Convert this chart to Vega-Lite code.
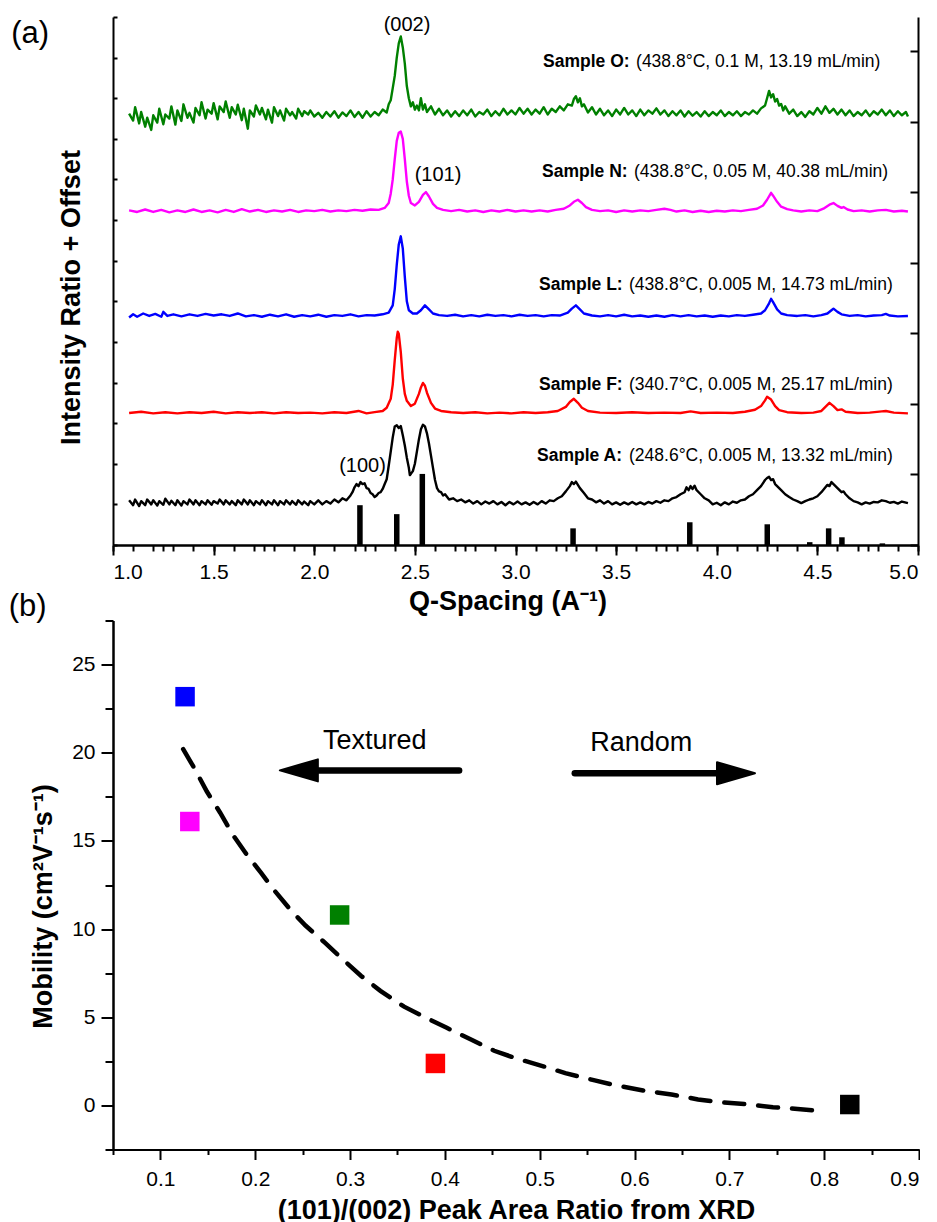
{
"$schema": "https://vega.github.io/schema/vega-lite/v6.json",
"background": "white",
"padding": {"left": 8, "top": 14, "right": 0, "bottom": 0},
"bounds": "flush",
"spacing": 75.5,
"config": {
  "font": "Liberation Sans",
  "view": {"stroke": null},
  "axis": {"grid": false, "domainColor": "black", "domainWidth": 2, "tickColor": "black", "tickWidth": 2,
           "labelFont": "Liberation Sans", "labelFontSize": 21, "labelColor": "black",
           "titleFont": "Liberation Sans", "titleFontSize": 27, "titleFontWeight": "bold", "titleColor": "black"},
  "text": {"font": "Liberation Sans", "color": "black"}
},
"datasets": {
"spec": [
{"s":"O","q":1.08,"v":10.62},{"s":"O","q":1.10,"v":10.45},{"s":"O","q":1.11,"v":10.78},{"s":"O","q":1.13,"v":10.38},{"s":"O","q":1.14,"v":10.66},{"s":"O","q":1.16,"v":10.30},{"s":"O","q":1.17,"v":10.52},{"s":"O","q":1.19,"v":10.22},{"s":"O","q":1.20,"v":10.58},{"s":"O","q":1.22,"v":10.40},{"s":"O","q":1.23,"v":10.74},{"s":"O","q":1.25,"v":10.36},{"s":"O","q":1.26,"v":10.60},{"s":"O","q":1.28,"v":10.50},{"s":"O","q":1.29,"v":10.80},{"s":"O","q":1.31,"v":10.35},{"s":"O","q":1.32,"v":10.70},{"s":"O","q":1.34,"v":10.44},{"s":"O","q":1.35,"v":10.85},{"s":"O","q":1.37,"v":10.52},{"s":"O","q":1.38,"v":10.64},{"s":"O","q":1.40,"v":10.40},{"s":"O","q":1.41,"v":10.76},{"s":"O","q":1.43,"v":10.58},{"s":"O","q":1.44,"v":10.90},{"s":"O","q":1.46,"v":10.50},{"s":"O","q":1.47,"v":10.72},{"s":"O","q":1.49,"v":10.62},{"s":"O","q":1.50,"v":10.88},{"s":"O","q":1.52,"v":10.48},{"s":"O","q":1.53,"v":10.80},{"s":"O","q":1.55,"v":10.66},{"s":"O","q":1.56,"v":10.92},{"s":"O","q":1.58,"v":10.52},{"s":"O","q":1.59,"v":10.78},{"s":"O","q":1.61,"v":10.60},{"s":"O","q":1.62,"v":10.84},{"s":"O","q":1.64,"v":10.46},{"s":"O","q":1.65,"v":10.74},{"s":"O","q":1.67,"v":10.25},{"s":"O","q":1.68,"v":10.70},{"s":"O","q":1.70,"v":10.55},{"s":"O","q":1.71,"v":10.82},{"s":"O","q":1.73,"v":10.60},{"s":"O","q":1.74,"v":10.76},{"s":"O","q":1.76,"v":10.48},{"s":"O","q":1.77,"v":10.72},{"s":"O","q":1.79,"v":10.40},{"s":"O","q":1.80,"v":10.78},{"s":"O","q":1.82,"v":10.56},{"s":"O","q":1.83,"v":10.70},{"s":"O","q":1.85,"v":10.45},{"s":"O","q":1.86,"v":10.74},{"s":"O","q":1.88,"v":10.58},{"s":"O","q":1.89,"v":10.66},{"s":"O","q":1.91,"v":10.50},{"s":"O","q":1.92,"v":10.74},{"s":"O","q":1.94,"v":10.56},{"s":"O","q":1.95,"v":10.68},{"s":"O","q":1.97,"v":10.60},{"s":"O","q":1.98,"v":10.70},{"s":"O","q":2.00,"v":10.55},{"s":"O","q":2.02,"v":10.64},{"s":"O","q":2.04,"v":10.52},{"s":"O","q":2.06,"v":10.66},{"s":"O","q":2.08,"v":10.55},{"s":"O","q":2.10,"v":10.68},{"s":"O","q":2.12,"v":10.52},{"s":"O","q":2.14,"v":10.65},{"s":"O","q":2.16,"v":10.56},{"s":"O","q":2.18,"v":10.70},{"s":"O","q":2.20,"v":10.54},{"s":"O","q":2.22,"v":10.66},{"s":"O","q":2.24,"v":10.52},{"s":"O","q":2.26,"v":10.68},{"s":"O","q":2.28,"v":10.55},{"s":"O","q":2.30,"v":10.66},{"s":"O","q":2.32,"v":10.58},{"s":"O","q":2.34,"v":10.72},{"s":"O","q":2.36,"v":10.65},{"s":"O","q":2.37,"v":10.85},{"s":"O","q":2.38,"v":10.95},{"s":"O","q":2.39,"v":11.25},{"s":"O","q":2.40,"v":11.55},{"s":"O","q":2.41,"v":12.0},{"s":"O","q":2.42,"v":12.35},{"s":"O","q":2.43,"v":12.52},{"s":"O","q":2.44,"v":12.25},{"s":"O","q":2.45,"v":11.85},{"s":"O","q":2.46,"v":11.3},{"s":"O","q":2.47,"v":11.0},{"s":"O","q":2.48,"v":10.8},{"s":"O","q":2.49,"v":10.9},{"s":"O","q":2.50,"v":10.72},{"s":"O","q":2.51,"v":10.82},{"s":"O","q":2.52,"v":10.7},{"s":"O","q":2.53,"v":11.0},{"s":"O","q":2.54,"v":10.72},{"s":"O","q":2.55,"v":10.85},{"s":"O","q":2.56,"v":10.66},{"s":"O","q":2.58,"v":10.8},{"s":"O","q":2.60,"v":10.6},{"s":"O","q":2.62,"v":10.74},{"s":"O","q":2.64,"v":10.58},{"s":"O","q":2.66,"v":10.7},{"s":"O","q":2.68,"v":10.55},{"s":"O","q":2.70,"v":10.68},{"s":"O","q":2.72,"v":10.56},{"s":"O","q":2.74,"v":10.7},{"s":"O","q":2.76,"v":10.58},{"s":"O","q":2.78,"v":10.72},{"s":"O","q":2.80,"v":10.55},{"s":"O","q":2.82,"v":10.66},{"s":"O","q":2.84,"v":10.6},{"s":"O","q":2.86,"v":10.72},{"s":"O","q":2.88,"v":10.56},{"s":"O","q":2.90,"v":10.68},{"s":"O","q":2.92,"v":10.58},{"s":"O","q":2.94,"v":10.74},{"s":"O","q":2.96,"v":10.6},{"s":"O","q":2.98,"v":10.7},{"s":"O","q":3.00,"v":10.6},{"s":"O","q":3.02,"v":10.76},{"s":"O","q":3.04,"v":10.62},{"s":"O","q":3.06,"v":10.74},{"s":"O","q":3.08,"v":10.6},{"s":"O","q":3.10,"v":10.72},{"s":"O","q":3.12,"v":10.62},{"s":"O","q":3.14,"v":10.78},{"s":"O","q":3.16,"v":10.6},{"s":"O","q":3.18,"v":10.74},{"s":"O","q":3.20,"v":10.66},{"s":"O","q":3.22,"v":10.8},{"s":"O","q":3.24,"v":10.7},{"s":"O","q":3.26,"v":10.85},{"s":"O","q":3.28,"v":10.82},{"s":"O","q":3.29,"v":10.98},{"s":"O","q":3.30,"v":11.05},{"s":"O","q":3.31,"v":10.9},{"s":"O","q":3.32,"v":11.0},{"s":"O","q":3.33,"v":10.8},{"s":"O","q":3.34,"v":10.85},{"s":"O","q":3.36,"v":10.65},{"s":"O","q":3.38,"v":10.78},{"s":"O","q":3.40,"v":10.6},{"s":"O","q":3.42,"v":10.74},{"s":"O","q":3.44,"v":10.58},{"s":"O","q":3.46,"v":10.7},{"s":"O","q":3.48,"v":10.56},{"s":"O","q":3.50,"v":10.72},{"s":"O","q":3.52,"v":10.6},{"s":"O","q":3.54,"v":10.76},{"s":"O","q":3.56,"v":10.6},{"s":"O","q":3.58,"v":10.7},{"s":"O","q":3.60,"v":10.56},{"s":"O","q":3.62,"v":10.72},{"s":"O","q":3.64,"v":10.58},{"s":"O","q":3.66,"v":10.7},{"s":"O","q":3.68,"v":10.62},{"s":"O","q":3.70,"v":10.75},{"s":"O","q":3.72,"v":10.6},{"s":"O","q":3.74,"v":10.7},{"s":"O","q":3.76,"v":10.56},{"s":"O","q":3.78,"v":10.68},{"s":"O","q":3.80,"v":10.58},{"s":"O","q":3.82,"v":10.7},{"s":"O","q":3.84,"v":10.55},{"s":"O","q":3.86,"v":10.68},{"s":"O","q":3.88,"v":10.57},{"s":"O","q":3.90,"v":10.66},{"s":"O","q":3.92,"v":10.55},{"s":"O","q":3.94,"v":10.68},{"s":"O","q":3.96,"v":10.56},{"s":"O","q":3.98,"v":10.66},{"s":"O","q":4.00,"v":10.58},{"s":"O","q":4.02,"v":10.7},{"s":"O","q":4.04,"v":10.56},{"s":"O","q":4.06,"v":10.66},{"s":"O","q":4.08,"v":10.58},{"s":"O","q":4.10,"v":10.68},{"s":"O","q":4.12,"v":10.56},{"s":"O","q":4.14,"v":10.66},{"s":"O","q":4.16,"v":10.6},{"s":"O","q":4.18,"v":10.7},{"s":"O","q":4.20,"v":10.62},{"s":"O","q":4.22,"v":10.75},{"s":"O","q":4.24,"v":10.82},{"s":"O","q":4.25,"v":11.0},{"s":"O","q":4.26,"v":11.18},{"s":"O","q":4.27,"v":11.02},{"s":"O","q":4.28,"v":11.1},{"s":"O","q":4.29,"v":10.92},{"s":"O","q":4.30,"v":10.98},{"s":"O","q":4.31,"v":10.82},{"s":"O","q":4.32,"v":10.86},{"s":"O","q":4.33,"v":10.7},{"s":"O","q":4.34,"v":10.8},{"s":"O","q":4.36,"v":10.62},{"s":"O","q":4.38,"v":10.72},{"s":"O","q":4.40,"v":10.56},{"s":"O","q":4.42,"v":10.66},{"s":"O","q":4.44,"v":10.54},{"s":"O","q":4.46,"v":10.68},{"s":"O","q":4.48,"v":10.6},{"s":"O","q":4.50,"v":10.76},{"s":"O","q":4.52,"v":10.62},{"s":"O","q":4.54,"v":10.8},{"s":"O","q":4.56,"v":10.64},{"s":"O","q":4.58,"v":10.74},{"s":"O","q":4.60,"v":10.6},{"s":"O","q":4.62,"v":10.72},{"s":"O","q":4.64,"v":10.58},{"s":"O","q":4.66,"v":10.7},{"s":"O","q":4.68,"v":10.56},{"s":"O","q":4.70,"v":10.66},{"s":"O","q":4.72,"v":10.58},{"s":"O","q":4.74,"v":10.7},{"s":"O","q":4.76,"v":10.56},{"s":"O","q":4.78,"v":10.68},{"s":"O","q":4.80,"v":10.6},{"s":"O","q":4.82,"v":10.72},{"s":"O","q":4.84,"v":10.58},{"s":"O","q":4.86,"v":10.7},{"s":"O","q":4.88,"v":10.56},{"s":"O","q":4.90,"v":10.68},{"s":"O","q":4.92,"v":10.58},{"s":"O","q":4.94,"v":10.66},{"s":"O","q":4.95,"v":10.55},
{"s":"N","q":1.08,"v":8.24},{"s":"N","q":1.12,"v":8.2},{"s":"N","q":1.16,"v":8.26},{"s":"N","q":1.20,"v":8.2},{"s":"N","q":1.24,"v":8.25},{"s":"N","q":1.28,"v":8.19},{"s":"N","q":1.32,"v":8.24},{"s":"N","q":1.36,"v":8.2},{"s":"N","q":1.40,"v":8.26},{"s":"N","q":1.44,"v":8.2},{"s":"N","q":1.48,"v":8.24},{"s":"N","q":1.52,"v":8.19},{"s":"N","q":1.56,"v":8.25},{"s":"N","q":1.60,"v":8.2},{"s":"N","q":1.64,"v":8.27},{"s":"N","q":1.68,"v":8.21},{"s":"N","q":1.72,"v":8.25},{"s":"N","q":1.76,"v":8.2},{"s":"N","q":1.80,"v":8.24},{"s":"N","q":1.84,"v":8.21},{"s":"N","q":1.88,"v":8.25},{"s":"N","q":1.92,"v":8.2},{"s":"N","q":1.96,"v":8.24},{"s":"N","q":2.00,"v":8.22},{"s":"N","q":2.04,"v":8.25},{"s":"N","q":2.08,"v":8.21},{"s":"N","q":2.12,"v":8.24},{"s":"N","q":2.16,"v":8.22},{"s":"N","q":2.20,"v":8.25},{"s":"N","q":2.24,"v":8.23},{"s":"N","q":2.28,"v":8.26},{"s":"N","q":2.32,"v":8.25},{"s":"N","q":2.35,"v":8.3},{"s":"N","q":2.37,"v":8.42},{"s":"N","q":2.38,"v":8.65},{"s":"N","q":2.39,"v":9.0},{"s":"N","q":2.40,"v":9.5},{"s":"N","q":2.41,"v":9.95},{"s":"N","q":2.42,"v":10.15},{"s":"N","q":2.43,"v":10.18},{"s":"N","q":2.44,"v":10.0},{"s":"N","q":2.45,"v":9.5},{"s":"N","q":2.46,"v":8.95},{"s":"N","q":2.47,"v":8.6},{"s":"N","q":2.48,"v":8.42},{"s":"N","q":2.50,"v":8.36},{"s":"N","q":2.52,"v":8.45},{"s":"N","q":2.54,"v":8.62},{"s":"N","q":2.555,"v":8.69},{"s":"N","q":2.57,"v":8.58},{"s":"N","q":2.59,"v":8.4},{"s":"N","q":2.61,"v":8.3},{"s":"N","q":2.64,"v":8.25},{"s":"N","q":2.68,"v":8.22},{"s":"N","q":2.72,"v":8.25},{"s":"N","q":2.76,"v":8.21},{"s":"N","q":2.80,"v":8.24},{"s":"N","q":2.84,"v":8.2},{"s":"N","q":2.88,"v":8.24},{"s":"N","q":2.92,"v":8.21},{"s":"N","q":2.96,"v":8.25},{"s":"N","q":3.00,"v":8.21},{"s":"N","q":3.04,"v":8.24},{"s":"N","q":3.08,"v":8.21},{"s":"N","q":3.12,"v":8.24},{"s":"N","q":3.16,"v":8.21},{"s":"N","q":3.20,"v":8.25},{"s":"N","q":3.24,"v":8.28},{"s":"N","q":3.27,"v":8.36},{"s":"N","q":3.29,"v":8.45},{"s":"N","q":3.31,"v":8.5},{"s":"N","q":3.33,"v":8.42},{"s":"N","q":3.35,"v":8.32},{"s":"N","q":3.38,"v":8.25},{"s":"N","q":3.42,"v":8.22},{"s":"N","q":3.46,"v":8.24},{"s":"N","q":3.50,"v":8.2},{"s":"N","q":3.54,"v":8.24},{"s":"N","q":3.58,"v":8.21},{"s":"N","q":3.62,"v":8.24},{"s":"N","q":3.66,"v":8.22},{"s":"N","q":3.70,"v":8.25},{"s":"N","q":3.74,"v":8.28},{"s":"N","q":3.77,"v":8.25},{"s":"N","q":3.80,"v":8.21},{"s":"N","q":3.84,"v":8.24},{"s":"N","q":3.88,"v":8.2},{"s":"N","q":3.92,"v":8.23},{"s":"N","q":3.96,"v":8.2},{"s":"N","q":4.00,"v":8.23},{"s":"N","q":4.04,"v":8.21},{"s":"N","q":4.08,"v":8.24},{"s":"N","q":4.12,"v":8.22},{"s":"N","q":4.16,"v":8.25},{"s":"N","q":4.20,"v":8.28},{"s":"N","q":4.23,"v":8.36},{"s":"N","q":4.25,"v":8.5},{"s":"N","q":4.27,"v":8.67},{"s":"N","q":4.28,"v":8.6},{"s":"N","q":4.30,"v":8.45},{"s":"N","q":4.32,"v":8.33},{"s":"N","q":4.35,"v":8.27},{"s":"N","q":4.38,"v":8.24},{"s":"N","q":4.42,"v":8.21},{"s":"N","q":4.46,"v":8.24},{"s":"N","q":4.50,"v":8.22},{"s":"N","q":4.53,"v":8.28},{"s":"N","q":4.56,"v":8.38},{"s":"N","q":4.58,"v":8.42},{"s":"N","q":4.60,"v":8.35},{"s":"N","q":4.62,"v":8.3},{"s":"N","q":4.63,"v":8.32},{"s":"N","q":4.65,"v":8.26},{"s":"N","q":4.68,"v":8.22},{"s":"N","q":4.72,"v":8.24},{"s":"N","q":4.76,"v":8.21},{"s":"N","q":4.80,"v":8.24},{"s":"N","q":4.84,"v":8.25},{"s":"N","q":4.88,"v":8.21},{"s":"N","q":4.92,"v":8.23},{"s":"N","q":4.95,"v":8.21},
{"s":"L","q":1.08,"v":5.6},{"s":"L","q":1.10,"v":5.68},{"s":"L","q":1.12,"v":5.62},{"s":"L","q":1.15,"v":5.7},{"s":"L","q":1.18,"v":5.64},{"s":"L","q":1.21,"v":5.69},{"s":"L","q":1.24,"v":5.62},{"s":"L","q":1.25,"v":5.74},{"s":"L","q":1.27,"v":5.64},{"s":"L","q":1.30,"v":5.68},{"s":"L","q":1.34,"v":5.63},{"s":"L","q":1.38,"v":5.68},{"s":"L","q":1.42,"v":5.64},{"s":"L","q":1.46,"v":5.69},{"s":"L","q":1.50,"v":5.65},{"s":"L","q":1.54,"v":5.68},{"s":"L","q":1.58,"v":5.64},{"s":"L","q":1.62,"v":5.7},{"s":"L","q":1.66,"v":5.63},{"s":"L","q":1.70,"v":5.66},{"s":"L","q":1.74,"v":5.62},{"s":"L","q":1.78,"v":5.67},{"s":"L","q":1.82,"v":5.63},{"s":"L","q":1.86,"v":5.68},{"s":"L","q":1.90,"v":5.62},{"s":"L","q":1.94,"v":5.66},{"s":"L","q":1.98,"v":5.63},{"s":"L","q":2.02,"v":5.67},{"s":"L","q":2.06,"v":5.62},{"s":"L","q":2.10,"v":5.66},{"s":"L","q":2.14,"v":5.64},{"s":"L","q":2.18,"v":5.68},{"s":"L","q":2.22,"v":5.63},{"s":"L","q":2.26,"v":5.66},{"s":"L","q":2.30,"v":5.65},{"s":"L","q":2.34,"v":5.68},{"s":"L","q":2.37,"v":5.72},{"s":"L","q":2.39,"v":5.9},{"s":"L","q":2.40,"v":6.3},{"s":"L","q":2.41,"v":6.9},{"s":"L","q":2.42,"v":7.4},{"s":"L","q":2.43,"v":7.6},{"s":"L","q":2.44,"v":7.3},{"s":"L","q":2.45,"v":6.6},{"s":"L","q":2.46,"v":6.0},{"s":"L","q":2.47,"v":5.78},{"s":"L","q":2.49,"v":5.7},{"s":"L","q":2.51,"v":5.7},{"s":"L","q":2.53,"v":5.78},{"s":"L","q":2.55,"v":5.9},{"s":"L","q":2.57,"v":5.8},{"s":"L","q":2.59,"v":5.7},{"s":"L","q":2.62,"v":5.66},{"s":"L","q":2.66,"v":5.64},{"s":"L","q":2.70,"v":5.67},{"s":"L","q":2.74,"v":5.63},{"s":"L","q":2.78,"v":5.66},{"s":"L","q":2.82,"v":5.63},{"s":"L","q":2.86,"v":5.67},{"s":"L","q":2.90,"v":5.64},{"s":"L","q":2.94,"v":5.66},{"s":"L","q":2.98,"v":5.63},{"s":"L","q":3.02,"v":5.67},{"s":"L","q":3.06,"v":5.64},{"s":"L","q":3.10,"v":5.66},{"s":"L","q":3.14,"v":5.63},{"s":"L","q":3.18,"v":5.66},{"s":"L","q":3.22,"v":5.65},{"s":"L","q":3.26,"v":5.72},{"s":"L","q":3.28,"v":5.82},{"s":"L","q":3.30,"v":5.9},{"s":"L","q":3.32,"v":5.8},{"s":"L","q":3.34,"v":5.7},{"s":"L","q":3.38,"v":5.65},{"s":"L","q":3.42,"v":5.63},{"s":"L","q":3.46,"v":5.66},{"s":"L","q":3.50,"v":5.63},{"s":"L","q":3.54,"v":5.67},{"s":"L","q":3.58,"v":5.63},{"s":"L","q":3.62,"v":5.65},{"s":"L","q":3.66,"v":5.62},{"s":"L","q":3.70,"v":5.65},{"s":"L","q":3.74,"v":5.62},{"s":"L","q":3.78,"v":5.66},{"s":"L","q":3.82,"v":5.63},{"s":"L","q":3.86,"v":5.66},{"s":"L","q":3.90,"v":5.63},{"s":"L","q":3.94,"v":5.65},{"s":"L","q":3.98,"v":5.62},{"s":"L","q":4.02,"v":5.65},{"s":"L","q":4.06,"v":5.63},{"s":"L","q":4.10,"v":5.66},{"s":"L","q":4.14,"v":5.64},{"s":"L","q":4.18,"v":5.67},{"s":"L","q":4.22,"v":5.7},{"s":"L","q":4.24,"v":5.78},{"s":"L","q":4.26,"v":5.95},{"s":"L","q":4.27,"v":6.06},{"s":"L","q":4.28,"v":5.98},{"s":"L","q":4.30,"v":5.8},{"s":"L","q":4.32,"v":5.7},{"s":"L","q":4.35,"v":5.66},{"s":"L","q":4.40,"v":5.64},{"s":"L","q":4.44,"v":5.66},{"s":"L","q":4.48,"v":5.63},{"s":"L","q":4.52,"v":5.66},{"s":"L","q":4.55,"v":5.7},{"s":"L","q":4.57,"v":5.78},{"s":"L","q":4.58,"v":5.82},{"s":"L","q":4.60,"v":5.74},{"s":"L","q":4.62,"v":5.68},{"s":"L","q":4.66,"v":5.64},{"s":"L","q":4.70,"v":5.66},{"s":"L","q":4.74,"v":5.63},{"s":"L","q":4.78,"v":5.65},{"s":"L","q":4.82,"v":5.66},{"s":"L","q":4.84,"v":5.69},{"s":"L","q":4.86,"v":5.65},{"s":"L","q":4.90,"v":5.63},{"s":"L","q":4.95,"v":5.64},
{"s":"F","q":1.08,"v":3.25},{"s":"F","q":1.14,"v":3.28},{"s":"F","q":1.20,"v":3.24},{"s":"F","q":1.26,"v":3.27},{"s":"F","q":1.32,"v":3.24},{"s":"F","q":1.38,"v":3.27},{"s":"F","q":1.44,"v":3.25},{"s":"F","q":1.50,"v":3.28},{"s":"F","q":1.56,"v":3.24},{"s":"F","q":1.62,"v":3.27},{"s":"F","q":1.68,"v":3.25},{"s":"F","q":1.74,"v":3.27},{"s":"F","q":1.80,"v":3.24},{"s":"F","q":1.86,"v":3.27},{"s":"F","q":1.92,"v":3.25},{"s":"F","q":1.98,"v":3.26},{"s":"F","q":2.04,"v":3.24},{"s":"F","q":2.10,"v":3.27},{"s":"F","q":2.16,"v":3.25},{"s":"F","q":2.22,"v":3.3},{"s":"F","q":2.26,"v":3.24},{"s":"F","q":2.30,"v":3.27},{"s":"F","q":2.34,"v":3.3},{"s":"F","q":2.36,"v":3.38},{"s":"F","q":2.38,"v":3.6},{"s":"F","q":2.39,"v":3.95},{"s":"F","q":2.40,"v":4.55},{"s":"F","q":2.41,"v":5.1},{"s":"F","q":2.415,"v":5.25},{"s":"F","q":2.42,"v":5.2},{"s":"F","q":2.43,"v":4.75},{"s":"F","q":2.44,"v":4.1},{"s":"F","q":2.45,"v":3.72},{"s":"F","q":2.46,"v":3.55},{"s":"F","q":2.48,"v":3.42},{"s":"F","q":2.50,"v":3.48},{"s":"F","q":2.52,"v":3.72},{"s":"F","q":2.53,"v":3.88},{"s":"F","q":2.54,"v":3.99},{"s":"F","q":2.55,"v":3.92},{"s":"F","q":2.56,"v":3.75},{"s":"F","q":2.58,"v":3.5},{"s":"F","q":2.60,"v":3.36},{"s":"F","q":2.63,"v":3.3},{"s":"F","q":2.68,"v":3.27},{"s":"F","q":2.74,"v":3.25},{"s":"F","q":2.80,"v":3.27},{"s":"F","q":2.86,"v":3.24},{"s":"F","q":2.92,"v":3.26},{"s":"F","q":2.98,"v":3.24},{"s":"F","q":3.04,"v":3.27},{"s":"F","q":3.10,"v":3.25},{"s":"F","q":3.16,"v":3.27},{"s":"F","q":3.21,"v":3.3},{"s":"F","q":3.25,"v":3.4},{"s":"F","q":3.27,"v":3.52},{"s":"F","q":3.29,"v":3.6},{"s":"F","q":3.31,"v":3.5},{"s":"F","q":3.33,"v":3.38},{"s":"F","q":3.36,"v":3.3},{"s":"F","q":3.42,"v":3.26},{"s":"F","q":3.50,"v":3.25},{"s":"F","q":3.58,"v":3.27},{"s":"F","q":3.66,"v":3.25},{"s":"F","q":3.74,"v":3.26},{"s":"F","q":3.82,"v":3.25},{"s":"F","q":3.87,"v":3.29},{"s":"F","q":3.92,"v":3.25},{"s":"F","q":4.00,"v":3.26},{"s":"F","q":4.08,"v":3.25},{"s":"F","q":4.14,"v":3.28},{"s":"F","q":4.19,"v":3.33},{"s":"F","q":4.22,"v":3.42},{"s":"F","q":4.24,"v":3.56},{"s":"F","q":4.25,"v":3.65},{"s":"F","q":4.27,"v":3.58},{"s":"F","q":4.29,"v":3.42},{"s":"F","q":4.31,"v":3.32},{"s":"F","q":4.35,"v":3.27},{"s":"F","q":4.42,"v":3.25},{"s":"F","q":4.48,"v":3.26},{"s":"F","q":4.52,"v":3.3},{"s":"F","q":4.54,"v":3.4},{"s":"F","q":4.56,"v":3.5},{"s":"F","q":4.58,"v":3.42},{"s":"F","q":4.60,"v":3.32},{"s":"F","q":4.62,"v":3.34},{"s":"F","q":4.64,"v":3.28},{"s":"F","q":4.70,"v":3.25},{"s":"F","q":4.76,"v":3.26},{"s":"F","q":4.82,"v":3.29},{"s":"F","q":4.84,"v":3.3},{"s":"F","q":4.88,"v":3.26},{"s":"F","q":4.95,"v":3.24},
{"s":"A","q":1.08,"v":1.1},{"s":"A","q":1.10,"v":0.98},{"s":"A","q":1.11,"v":1.12},{"s":"A","q":1.13,"v":0.96},{"s":"A","q":1.14,"v":1.08},{"s":"A","q":1.16,"v":0.98},{"s":"A","q":1.17,"v":1.12},{"s":"A","q":1.19,"v":1.0},{"s":"A","q":1.20,"v":1.1},{"s":"A","q":1.22,"v":0.97},{"s":"A","q":1.23,"v":1.08},{"s":"A","q":1.25,"v":0.99},{"s":"A","q":1.26,"v":1.14},{"s":"A","q":1.28,"v":1.0},{"s":"A","q":1.29,"v":1.09},{"s":"A","q":1.31,"v":0.98},{"s":"A","q":1.32,"v":1.1},{"s":"A","q":1.34,"v":0.97},{"s":"A","q":1.35,"v":1.08},{"s":"A","q":1.37,"v":1.0},{"s":"A","q":1.38,"v":1.12},{"s":"A","q":1.40,"v":1.0},{"s":"A","q":1.41,"v":1.1},{"s":"A","q":1.43,"v":0.98},{"s":"A","q":1.44,"v":1.08},{"s":"A","q":1.46,"v":1.0},{"s":"A","q":1.47,"v":1.1},{"s":"A","q":1.49,"v":0.99},{"s":"A","q":1.50,"v":1.08},{"s":"A","q":1.52,"v":1.02},{"s":"A","q":1.53,"v":1.12},{"s":"A","q":1.55,"v":1.0},{"s":"A","q":1.56,"v":1.1},{"s":"A","q":1.58,"v":1.0},{"s":"A","q":1.59,"v":1.08},{"s":"A","q":1.61,"v":0.98},{"s":"A","q":1.62,"v":1.1},{"s":"A","q":1.64,"v":1.0},{"s":"A","q":1.65,"v":1.12},{"s":"A","q":1.67,"v":1.0},{"s":"A","q":1.68,"v":1.1},{"s":"A","q":1.70,"v":0.98},{"s":"A","q":1.71,"v":1.08},{"s":"A","q":1.73,"v":1.0},{"s":"A","q":1.74,"v":1.1},{"s":"A","q":1.76,"v":0.98},{"s":"A","q":1.77,"v":1.08},{"s":"A","q":1.79,"v":1.0},{"s":"A","q":1.80,"v":1.1},{"s":"A","q":1.82,"v":0.98},{"s":"A","q":1.83,"v":1.08},{"s":"A","q":1.85,"v":1.0},{"s":"A","q":1.86,"v":1.1},{"s":"A","q":1.88,"v":1.0},{"s":"A","q":1.89,"v":1.08},{"s":"A","q":1.91,"v":0.99},{"s":"A","q":1.92,"v":1.1},{"s":"A","q":1.94,"v":1.0},{"s":"A","q":1.95,"v":1.07},{"s":"A","q":1.97,"v":0.98},{"s":"A","q":1.98,"v":1.08},{"s":"A","q":2.00,"v":1.0},{"s":"A","q":2.02,"v":1.1},{"s":"A","q":2.04,"v":1.0},{"s":"A","q":2.06,"v":1.08},{"s":"A","q":2.08,"v":1.02},{"s":"A","q":2.10,"v":1.12},{"s":"A","q":2.12,"v":1.05},{"s":"A","q":2.14,"v":1.15},{"s":"A","q":2.16,"v":1.1},{"s":"A","q":2.18,"v":1.22},{"s":"A","q":2.19,"v":1.3},{"s":"A","q":2.20,"v":1.42},{"s":"A","q":2.21,"v":1.5},{"s":"A","q":2.22,"v":1.45},{"s":"A","q":2.23,"v":1.55},{"s":"A","q":2.24,"v":1.5},{"s":"A","q":2.25,"v":1.52},{"s":"A","q":2.26,"v":1.4},{"s":"A","q":2.27,"v":1.38},{"s":"A","q":2.28,"v":1.28},{"s":"A","q":2.29,"v":1.25},{"s":"A","q":2.30,"v":1.18},{"s":"A","q":2.31,"v":1.22},{"s":"A","q":2.32,"v":1.28},{"s":"A","q":2.33,"v":1.3},{"s":"A","q":2.34,"v":1.38},{"s":"A","q":2.35,"v":1.5},{"s":"A","q":2.36,"v":1.62},{"s":"A","q":2.37,"v":1.95},{"s":"A","q":2.38,"v":2.3},{"s":"A","q":2.39,"v":2.65},{"s":"A","q":2.40,"v":2.92},{"s":"A","q":2.41,"v":2.95},{"s":"A","q":2.42,"v":2.88},{"s":"A","q":2.43,"v":2.93},{"s":"A","q":2.44,"v":2.7},{"s":"A","q":2.45,"v":2.45},{"s":"A","q":2.46,"v":2.15},{"s":"A","q":2.47,"v":1.9},{"s":"A","q":2.475,"v":1.72},{"s":"A","q":2.48,"v":1.75},{"s":"A","q":2.49,"v":1.82},{"s":"A","q":2.50,"v":2.0},{"s":"A","q":2.51,"v":2.3},{"s":"A","q":2.52,"v":2.6},{"s":"A","q":2.53,"v":2.85},{"s":"A","q":2.54,"v":2.96},{"s":"A","q":2.55,"v":2.92},{"s":"A","q":2.56,"v":2.75},{"s":"A","q":2.57,"v":2.5},{"s":"A","q":2.58,"v":2.2},{"s":"A","q":2.59,"v":1.9},{"s":"A","q":2.60,"v":1.6},{"s":"A","q":2.61,"v":1.4},{"s":"A","q":2.62,"v":1.32},{"s":"A","q":2.63,"v":1.3},{"s":"A","q":2.64,"v":1.22},{"s":"A","q":2.65,"v":1.25},{"s":"A","q":2.67,"v":1.12},{"s":"A","q":2.69,"v":1.15},{"s":"A","q":2.71,"v":1.08},{"s":"A","q":2.73,"v":1.12},{"s":"A","q":2.75,"v":1.05},{"s":"A","q":2.77,"v":1.1},{"s":"A","q":2.79,"v":1.02},{"s":"A","q":2.81,"v":1.08},{"s":"A","q":2.83,"v":1.0},{"s":"A","q":2.85,"v":1.07},{"s":"A","q":2.87,"v":1.02},{"s":"A","q":2.89,"v":1.08},{"s":"A","q":2.91,"v":1.0},{"s":"A","q":2.93,"v":1.06},{"s":"A","q":2.95,"v":0.98},{"s":"A","q":2.97,"v":1.06},{"s":"A","q":2.99,"v":1.0},{"s":"A","q":3.01,"v":1.07},{"s":"A","q":3.03,"v":1.0},{"s":"A","q":3.05,"v":1.05},{"s":"A","q":3.07,"v":0.99},{"s":"A","q":3.09,"v":1.06},{"s":"A","q":3.11,"v":1.0},{"s":"A","q":3.13,"v":1.08},{"s":"A","q":3.15,"v":1.02},{"s":"A","q":3.17,"v":1.1},{"s":"A","q":3.19,"v":1.08},{"s":"A","q":3.21,"v":1.15},{"s":"A","q":3.23,"v":1.2},{"s":"A","q":3.25,"v":1.32},{"s":"A","q":3.27,"v":1.45},{"s":"A","q":3.28,"v":1.55},{"s":"A","q":3.29,"v":1.5},{"s":"A","q":3.30,"v":1.56},{"s":"A","q":3.31,"v":1.48},{"s":"A","q":3.32,"v":1.4},{"s":"A","q":3.34,"v":1.28},{"s":"A","q":3.36,"v":1.15},{"s":"A","q":3.38,"v":1.12},{"s":"A","q":3.40,"v":1.05},{"s":"A","q":3.42,"v":1.1},{"s":"A","q":3.44,"v":1.02},{"s":"A","q":3.46,"v":1.08},{"s":"A","q":3.48,"v":1.0},{"s":"A","q":3.50,"v":1.05},{"s":"A","q":3.52,"v":0.99},{"s":"A","q":3.54,"v":1.05},{"s":"A","q":3.56,"v":1.0},{"s":"A","q":3.58,"v":1.06},{"s":"A","q":3.60,"v":1.0},{"s":"A","q":3.62,"v":1.05},{"s":"A","q":3.64,"v":1.0},{"s":"A","q":3.66,"v":1.06},{"s":"A","q":3.68,"v":1.02},{"s":"A","q":3.70,"v":1.08},{"s":"A","q":3.72,"v":1.04},{"s":"A","q":3.74,"v":1.1},{"s":"A","q":3.76,"v":1.08},{"s":"A","q":3.78,"v":1.15},{"s":"A","q":3.80,"v":1.18},{"s":"A","q":3.82,"v":1.25},{"s":"A","q":3.84,"v":1.3},{"s":"A","q":3.85,"v":1.42},{"s":"A","q":3.86,"v":1.35},{"s":"A","q":3.87,"v":1.45},{"s":"A","q":3.88,"v":1.38},{"s":"A","q":3.89,"v":1.46},{"s":"A","q":3.90,"v":1.35},{"s":"A","q":3.92,"v":1.25},{"s":"A","q":3.94,"v":1.15},{"s":"A","q":3.96,"v":1.1},{"s":"A","q":3.98,"v":1.0},{"s":"A","q":4.00,"v":1.04},{"s":"A","q":4.02,"v":0.98},{"s":"A","q":4.04,"v":1.05},{"s":"A","q":4.06,"v":1.0},{"s":"A","q":4.08,"v":1.07},{"s":"A","q":4.10,"v":1.04},{"s":"A","q":4.12,"v":1.1},{"s":"A","q":4.14,"v":1.12},{"s":"A","q":4.16,"v":1.2},{"s":"A","q":4.18,"v":1.25},{"s":"A","q":4.20,"v":1.35},{"s":"A","q":4.22,"v":1.45},{"s":"A","q":4.24,"v":1.6},{"s":"A","q":4.25,"v":1.65},{"s":"A","q":4.26,"v":1.68},{"s":"A","q":4.27,"v":1.6},{"s":"A","q":4.28,"v":1.62},{"s":"A","q":4.29,"v":1.5},{"s":"A","q":4.30,"v":1.45},{"s":"A","q":4.32,"v":1.35},{"s":"A","q":4.34,"v":1.25},{"s":"A","q":4.36,"v":1.18},{"s":"A","q":4.38,"v":1.12},{"s":"A","q":4.40,"v":1.08},{"s":"A","q":4.42,"v":1.03},{"s":"A","q":4.44,"v":1.08},{"s":"A","q":4.46,"v":1.12},{"s":"A","q":4.48,"v":1.15},{"s":"A","q":4.50,"v":1.2},{"s":"A","q":4.52,"v":1.3},{"s":"A","q":4.54,"v":1.42},{"s":"A","q":4.55,"v":1.48},{"s":"A","q":4.56,"v":1.45},{"s":"A","q":4.57,"v":1.55},{"s":"A","q":4.58,"v":1.5},{"s":"A","q":4.60,"v":1.4},{"s":"A","q":4.62,"v":1.3},{"s":"A","q":4.63,"v":1.32},{"s":"A","q":4.64,"v":1.25},{"s":"A","q":4.66,"v":1.15},{"s":"A","q":4.68,"v":1.08},{"s":"A","q":4.70,"v":1.05},{"s":"A","q":4.72,"v":1.0},{"s":"A","q":4.74,"v":1.05},{"s":"A","q":4.76,"v":1.02},{"s":"A","q":4.78,"v":1.06},{"s":"A","q":4.80,"v":1.05},{"s":"A","q":4.82,"v":1.1},{"s":"A","q":4.84,"v":1.08},{"s":"A","q":4.86,"v":1.04},{"s":"A","q":4.88,"v":1.06},{"s":"A","q":4.90,"v":1.02},{"s":"A","q":4.92,"v":1.07},{"s":"A","q":4.95,"v":1.03}
],
"sticks": [
{"q":2.227,"h":0.98},{"q":2.41,"h":0.76},{"q":2.537,"h":1.75},{"q":3.286,"h":0.41},{"q":3.866,"h":0.56},{"q":4.251,"h":0.51},{"q":4.462,"h":0.07},{"q":4.556,"h":0.41},{"q":4.622,"h":0.19},{"q":4.823,"h":0.04}
],
"labA": [
{"k":"bold","x":3.137,"y":11.76,"t":"Sample O:"},
{"k":"norm","x":3.599,"y":11.76,"t":"(438.8°C, 0.1 M, 13.19 mL/min)"},
{"k":"bold","x":3.132,"y":9.06,"t":"Sample N:"},
{"k":"norm","x":3.589,"y":9.06,"t":"(438.8°C, 0.05 M, 40.38 mL/min)"},
{"k":"bold","x":3.117,"y":6.28,"t":"Sample L:"},
{"k":"norm","x":3.564,"y":6.28,"t":"(438.8°C, 0.005 M, 14.73 mL/min)"},
{"k":"bold","x":3.117,"y":3.82,"t":"Sample F:"},
{"k":"norm","x":3.564,"y":3.82,"t":"(340.7°C, 0.005 M, 25.17 mL/min)"},
{"k":"bold","x":3.107,"y":2.07,"t":"Sample A:"},
{"k":"norm","x":3.564,"y":2.07,"t":"(248.6°C, 0.005 M, 13.32 mL/min)"},
{"k":"hkl","x":2.461,"y":12.66,"t":"(002)"},
{"k":"hkl","x":2.615,"y":8.95,"t":"(101)"},
{"k":"hkl","x":2.24,"y":1.79,"t":"(100)"},
{"k":"panel","x":0.588,"y":12.35,"t":"(a)"}
],
"pts": [
{"s":"L","r":0.126,"m":23.18},{"s":"N","r":0.131,"m":16.1},{"s":"O","r":0.289,"m":10.8},{"s":"F","r":0.39,"m":2.38},{"s":"A","r":0.827,"m":0.05}
],
"fit": [
{"r":0.124,"m":20.2},{"r":0.136,"m":19.1},{"r":0.149,"m":17.8},{"r":0.163,"m":16.6},{"r":0.177,"m":15.3},{"r":0.19,"m":14.3},{"r":0.206,"m":13.2},{"r":0.22,"m":12.2},{"r":0.237,"m":11.1},{"r":0.253,"m":10.2},{"r":0.274,"m":9.2},{"r":0.291,"m":8.35},{"r":0.312,"m":7.33},{"r":0.332,"m":6.5},{"r":0.357,"m":5.6},{"r":0.379,"m":5.0},{"r":0.402,"m":4.4},{"r":0.427,"m":3.75},{"r":0.452,"m":3.1},{"r":0.475,"m":2.67},{"r":0.505,"m":2.2},{"r":0.527,"m":1.83},{"r":0.558,"m":1.42},{"r":0.58,"m":1.14},{"r":0.609,"m":0.85},{"r":0.639,"m":0.62},{"r":0.667,"m":0.34},{"r":0.692,"m":0.17},{"r":0.72,"m":0.06},{"r":0.746,"m":-0.1},{"r":0.772,"m":-0.2},{"r":0.798,"m":-0.33}
],
"shafts": [
{"a":0.415,"b":0.266,"m":19.0},{"a":0.537,"b":0.688,"m":18.84}
],
"heads": [
{"d":"left","r":0.246,"m":19.0},{"d":"right","r":0.707,"m":18.84}
],
"labB": [
{"k":"arrow","r":0.326,"m":20.24,"t":"Textured"},
{"k":"arrow","r":0.607,"m":20.09,"t":"Random"},
{"k":"panel","r":-0.040,"m":27.73,"t":"(b)"}
]
},
"vconcat": [
{
 "width": 805, "height": 528,
 "resolve": {"axis": {"x": "independent", "y": "independent"}},
 "layer": [
  {"data": {"name": "spec"},
   "mark": {"type": "line", "strokeWidth": 2.4, "strokeJoin": "round"},
   "encoding": {
     "x": {"field": "q", "type": "quantitative", "scale": {"domain": [1, 5], "nice": false, "zero": false},
           "axis": {"orient": "bottom", "values": [1.0,1.1,1.2,1.25,1.3,1.4,1.5,1.6,1.7,1.75,1.8,1.9,2.0,2.1,2.2,2.25,2.3,2.4,2.5,2.6,2.7,2.75,2.8,2.9,3.0,3.1,3.2,3.25,3.3,3.4,3.5,3.6,3.7,3.75,3.8,3.9,4.0,4.1,4.2,4.25,4.3,4.4,4.5,4.6,4.7,4.75,4.8,4.9,5.0], "labels": false, "tickSize": 6, "title": null}},
     "y": {"field": "v", "type": "quantitative", "scale": {"domain": [0, 13], "nice": false, "zero": false},
           "axis": {"orient": "left", "values": [0,1,2,3,4,5,6,7,8,9,10,11,12,13], "labels": false, "tickSize": -4,
                    "title": "Intensity Ratio + Offset", "titleX": -42, "titleY": 280, "titleBaseline": "middle", "titleAngle": 270}},
     "color": {"field": "s", "type": "nominal", "scale": {"domain": ["A","F","L","N","O"], "range": ["#000000","#ff0000","#0000ff","#ff00ff","#008000"]}, "legend": null}
   }},
  {"data": {"name": "sticks"},
   "mark": {"type": "rule", "strokeWidth": 5.5, "color": "black", "strokeCap": "butt"},
   "encoding": {
     "x": {"field": "q", "type": "quantitative",
           "axis": {"orient": "bottom", "values": [1.0,1.5,2.0,2.5,3.0,3.5,4.0,4.5,5.0], "format": ".1f", "tickSize": 10, "labelPadding": 6,
                    "title": "Q-Spacing (A⁻¹)", "titleX": 394.5, "titleY": 56, "titleBaseline": "middle"}},
     "y": {"field": "h", "type": "quantitative",
           "axis": {"orient": "right", "values": [0,1.736,3.472,5.208,6.944,8.68,10.416,12.152], "labels": false, "tickSize": -8, "title": null}},
     "y2": {"datum": 0}
   }},
  {"data": {"name": "labA"}, "transform": [{"filter": "datum.k == 'bold'"}],
   "mark": {"type": "text", "fontWeight": "bold", "fontSize": 17.5, "align": "left", "baseline": "alphabetic"},
   "encoding": {"x": {"field": "x", "type": "quantitative", "axis": null}, "y": {"field": "y", "type": "quantitative", "axis": null}, "text": {"field": "t"}}},
  {"data": {"name": "labA"}, "transform": [{"filter": "datum.k == 'norm'"}],
   "mark": {"type": "text", "fontSize": 17.5, "align": "left", "baseline": "alphabetic"},
   "encoding": {"x": {"field": "x", "type": "quantitative", "axis": null}, "y": {"field": "y", "type": "quantitative", "axis": null}, "text": {"field": "t"}}},
  {"data": {"name": "labA"}, "transform": [{"filter": "datum.k == 'hkl'"}],
   "mark": {"type": "text", "fontSize": 20, "align": "center", "baseline": "alphabetic"},
   "encoding": {"x": {"field": "x", "type": "quantitative", "axis": null}, "y": {"field": "y", "type": "quantitative", "axis": null}, "text": {"field": "t"}}},
  {"data": {"name": "labA"}, "transform": [{"filter": "datum.k == 'panel'"}],
   "mark": {"type": "text", "fontSize": 31, "align": "center", "baseline": "alphabetic"},
   "encoding": {"x": {"field": "x", "type": "quantitative", "axis": null}, "y": {"field": "y", "type": "quantitative", "axis": null}, "text": {"field": "t"}}}
 ]
},
{
 "width": 806, "height": 529,
 "resolve": {"axis": {"x": "independent", "y": "independent"}},
 "layer": [
  {"data": {"name": "fit"},
   "mark": {"type": "line", "strokeWidth": 4.5, "color": "black", "strokeDash": [20, 14], "strokeCap": "round"},
   "encoding": {
     "x": {"field": "r", "type": "quantitative", "scale": {"domain": [0.05, 0.9], "nice": false, "zero": false},
           "axis": {"orient": "bottom", "values": [0.05,0.15,0.25,0.35,0.45,0.55,0.65,0.75,0.85], "labels": false, "tickSize": 5, "title": null}},
     "y": {"field": "m", "type": "quantitative", "scale": {"domain": [-2.5, 27.5], "nice": false, "zero": false},
           "axis": {"orient": "left", "values": [-2.5,2.5,7.5,12.5,17.5,22.5,27.5], "labels": false, "tickSize": 8, "title": null}}
   }},
  {"data": {"name": "pts"},
   "mark": {"type": "point", "shape": "square", "filled": true, "size": 380, "opacity": 1},
   "encoding": {
     "x": {"field": "r", "type": "quantitative",
           "axis": {"orient": "bottom", "values": [0.1,0.2,0.3,0.4,0.5,0.6,0.7,0.8,0.9], "format": ".1f", "tickSize": 10, "labelPadding": 9,
                    "title": "(101)/(002) Peak Area Ratio from XRD", "titleY": 61, "titleBaseline": "middle"}},
     "y": {"field": "m", "type": "quantitative",
           "axis": {"orient": "left", "values": [0,5,10,15,20,25], "tickSize": 12, "labelPadding": 6,
                    "title": "Mobility (cm²V⁻¹s⁻¹)", "titleX": -70, "titleY": 285.5, "titleBaseline": "middle", "titleAngle": 270}},
     "color": {"field": "s", "type": "nominal", "scale": {"domain": ["A","F","L","N","O"], "range": ["#000000","#ff0000","#0000ff","#ff00ff","#008000"]}, "legend": null}
   }},
  {"data": {"name": "shafts"},
   "mark": {"type": "rule", "strokeWidth": 6.5, "color": "black", "strokeCap": "round"},
   "encoding": {"x": {"field": "a", "type": "quantitative", "axis": null}, "x2": {"field": "b"}, "y": {"field": "m", "type": "quantitative", "axis": null}}},
  {"data": {"name": "heads"}, "transform": [{"filter": "datum.d == 'left'"}],
   "mark": {"type": "point", "shape": "M-1,0L1,-0.58L1,0.58Z", "filled": true, "color": "black", "size": 1444, "opacity": 1, "stroke": "black", "strokeWidth": 2, "strokeJoin": "round"},
   "encoding": {"x": {"field": "r", "type": "quantitative", "axis": null}, "y": {"field": "m", "type": "quantitative", "axis": null}}},
  {"data": {"name": "heads"}, "transform": [{"filter": "datum.d == 'right'"}],
   "mark": {"type": "point", "shape": "M1,0L-1,-0.58L-1,0.58Z", "filled": true, "color": "black", "size": 1444, "opacity": 1, "stroke": "black", "strokeWidth": 2, "strokeJoin": "round"},
   "encoding": {"x": {"field": "r", "type": "quantitative", "axis": null}, "y": {"field": "m", "type": "quantitative", "axis": null}}},
  {"data": {"name": "labB"}, "transform": [{"filter": "datum.k == 'arrow'"}],
   "mark": {"type": "text", "fontSize": 27, "align": "center", "baseline": "alphabetic"},
   "encoding": {"x": {"field": "r", "type": "quantitative", "axis": null}, "y": {"field": "m", "type": "quantitative", "axis": null}, "text": {"field": "t"}}},
  {"data": {"name": "labB"}, "transform": [{"filter": "datum.k == 'panel'"}],
   "mark": {"type": "text", "fontSize": 31, "align": "center", "baseline": "alphabetic"},
   "encoding": {"x": {"field": "r", "type": "quantitative", "axis": null}, "y": {"field": "m", "type": "quantitative", "axis": null}, "text": {"field": "t"}}}
 ]
}
]
}
